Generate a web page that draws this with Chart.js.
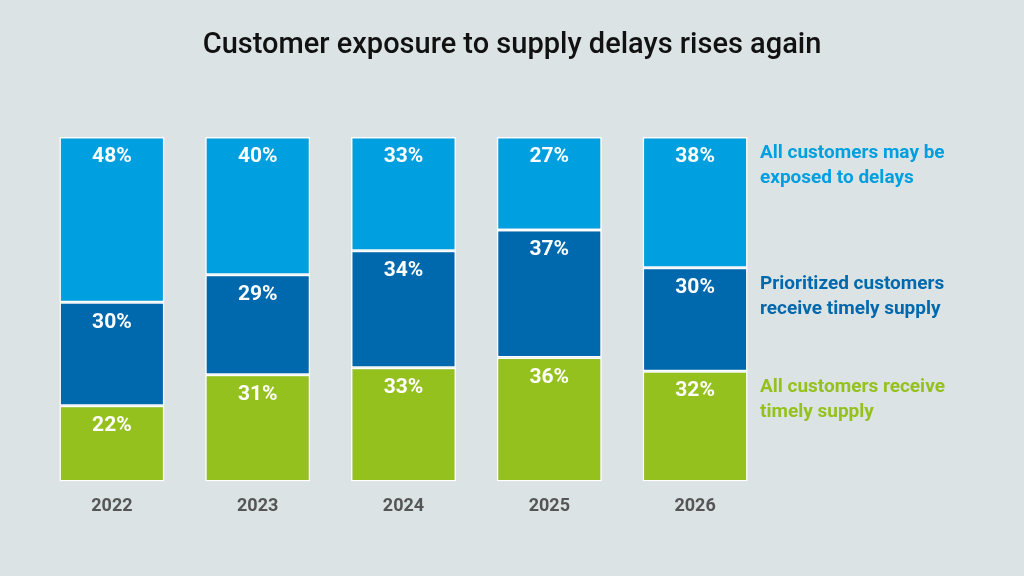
<!DOCTYPE html>
<html><head><meta charset="utf-8">
<script src="https://cdn.jsdelivr.net/npm/chart.js@4"></script>
<style>html,body{margin:0;padding:0;background:#dce3e5;}canvas{display:block}</style>
</head><body>
<canvas id="c" width="1024" height="576"></canvas>
<script>
const years = ['2022','2023','2024','2025','2026'];
const allTimely = [22,31,33,36,32];
const prioritized = [30,29,34,37,30];
const exposed = [48,40,33,27,38];
const seriesNames = [['All customers receive','timely supply'],['Prioritized customers','receive timely supply'],['All customers may be','exposed to delays']];
const colors = ['#95c11f','#0068ac','#009fdf'];
const title = 'Customer exposure to supply delays rises again';

const custom = {
  id:'custom',
  afterDatasetsDraw(chart){
    const ctx = chart.ctx;
    ctx.save();
    ctx.fillStyle='#111';
    ctx.font='500 29px Roboto, "DejaVu Sans", sans-serif';
    ctx.textAlign='center'; ctx.textBaseline='middle';
    ctx.fillText(title, 512, 46);
    chart.data.datasets.forEach((ds,di)=>{
      const meta = chart.getDatasetMeta(di);
      meta.data.forEach((bar,i)=>{
        ctx.fillStyle='#fff';
        ctx.font='bold 21px Roboto, "DejaVu Sans", sans-serif';
        ctx.textAlign='center'; ctx.textBaseline='middle';
        ctx.fillText(ds.data[i]+'%', bar.x, bar.y+20);
      });
      const last = meta.data[meta.data.length-1];
      ctx.fillStyle = colors[di];
      ctx.font='bold 19px Roboto, "DejaVu Sans", sans-serif';
      ctx.textAlign='left'; ctx.textBaseline='top';
      seriesNames[di].forEach((t,k)=>ctx.fillText(t, 760, last.y+7+k*25));
    });
    ctx.restore();
  }
};

new Chart(document.getElementById('c'),{
  type:'bar',
  data:{labels:years,datasets:[
    {data:allTimely,backgroundColor:colors[0]},
    {data:prioritized,backgroundColor:colors[1]},
    {data:exposed,backgroundColor:colors[2]}
  ].map(d=>Object.assign(d,{borderColor:'#fff',borderWidth:1.5,borderSkipped:false,barPercentage:0.72,categoryPercentage:1}))},
  options:{responsive:false,animation:false,
    layout:{padding:{top:137,left:39,right:256,bottom:53}},
    plugins:{legend:{display:false},tooltip:{enabled:false}},
    scales:{
      x:{stacked:true,grid:{display:false},border:{display:false},
         ticks:{color:'#555',font:{size:18,weight:'bold',family:'Roboto'},padding:6}},
      y:{stacked:true,display:false,min:0,max:100}
    }},
  plugins:[custom]
});
</script>
</body></html>
